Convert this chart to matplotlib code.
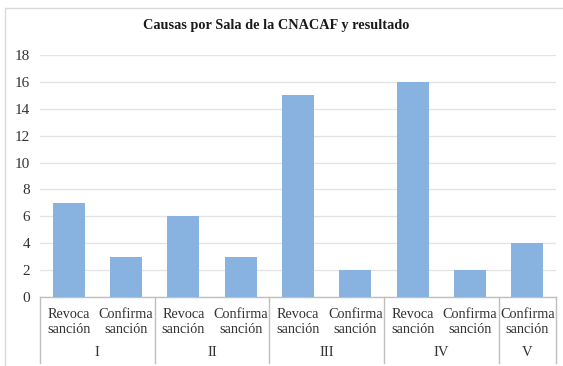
import matplotlib
matplotlib.use("Agg")
import matplotlib.pyplot as plt
from matplotlib.patches import Rectangle
from matplotlib.lines import Line2D
import matplotlib.transforms as mtransforms

# Data
salas = ["I", "II", "III", "IV", "V"]
resultados = [
    ["Revoca\nsanción", "Confirma\nsanción"],
    ["Revoca\nsanción", "Confirma\nsanción"],
    ["Revoca\nsanción", "Confirma\nsanción"],
    ["Revoca\nsanción", "Confirma\nsanción"],
    ["Confirma\nsanción"],
]
causas = [
    [7, 3],
    [6, 3],
    [15, 2],
    [16, 2],
    [4],
]
yticks = [0, 2, 4, 6, 8, 10, 12, 14, 16, 18]

plt.rcParams["font.family"] = ["Liberation Serif", "DejaVu Serif"]

W, H = 563, 366
fig = plt.figure(figsize=(W / 100, H / 100), dpi=100)
fig.patch.set_facecolor("white")

# chart frame
fig.patches.append(Rectangle((5 / W, -0.1), 1.2, 1 - 8 / H + 0.1,
                             transform=fig.transFigure, fill=False,
                             edgecolor="#D9D9D9", linewidth=1.0))

ax = fig.add_axes([40 / W, 1 - 297 / H, (556 - 40) / W, (297 - 55) / H])

labels, values, group_bounds = [], [], []
pos = 0
for sala, res, vals in zip(salas, resultados, causas):
    start = pos
    for r, v in zip(res, vals):
        labels.append(r)
        values.append(v)
        pos += 1
    group_bounds.append((start, pos, sala))

x = list(range(len(values)))
ax.bar(x, values, width=0.56, color="#88B3E0", zorder=3)

ax.set_xlim(-0.5, len(values) - 0.5)
ax.set_ylim(0, 18)
ax.set_yticks(yticks)
ax.set_yticklabels([str(t) for t in yticks], fontsize=11, color="#333333")
ax.tick_params(axis="y", length=0, pad=7)
ax.yaxis.grid(True, color="#E3E3E3", linewidth=0.9, zorder=0)
ax.set_xticks([])
for s in ["top", "right", "left"]:
    ax.spines[s].set_visible(False)
ax.spines["bottom"].set_color("#BFBFBF")
ax.spines["bottom"].set_linewidth(1.0)

trans = mtransforms.blended_transform_factory(ax.transData, ax.transAxes)
px = 1 / 242.0
for xi, lab in zip(x, labels):
    ax.text(xi, -25 * px, lab, transform=trans, ha="center", va="center",
            fontsize=10.3, color="#333333", linespacing=1.15)

for start, end, sala in group_bounds:
    ax.text((start + end - 1) / 2, -56 * px, sala, transform=trans,
            ha="center", va="center", fontsize=10.5, color="#333333")

bounds = [-0.5] + [end - 0.5 for _, end, _ in group_bounds]
for b in bounds:
    ax.add_line(Line2D([b, b], [0, -66 * px], transform=trans,
                       color="#BFBFBF", linewidth=1.0, clip_on=False))

fig.text(276 / W, 1 - 26 / H, "Causas por Sala de la CNACAF y resultado",
         ha="center", va="center", fontsize=10.3, fontweight="bold",
         color="#1A1A1A")

fig.savefig("out.png", dpi=100)
